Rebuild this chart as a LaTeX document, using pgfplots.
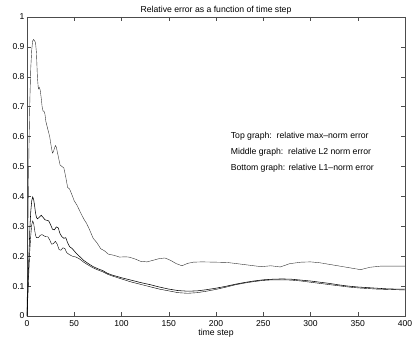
\documentclass[border=0pt]{standalone}
\usepackage{fontspec}
\setmainfont{Liberation Sans}
\usepackage{pgfplots}
\pgfplotsset{compat=1.18}

\begin{document}
\begin{tikzpicture}[x=1bp,y=1bp]
\useasboundingbox (-27,-23) rectangle (388,316);
\begin{axis}[
    at={(0,0)}, anchor=south west,
    scale only axis,
    width=378bp, height=299bp,
    xmin=0, xmax=400, ymin=0, ymax=1,
    xtick={0,50,...,400},
    ytick={0,0.1,...,1},
    yticklabels={0,0.1,0.2,0.3,0.4,0.5,0.6,0.7,0.8,0.9,1},
    /pgf/number format/assume math mode=true,
    tick align=inside,
    tick pos=both,
    major tick length=4bp,
    axis line style={gray!60!black, line width=0.6pt},
    every tick/.style={gray!60!black, line width=0.5pt},
    tick label style={font=\fontsize{8.6}{9}\selectfont},
    xticklabel style={yshift=-1.5pt},
    yticklabel style={xshift=1pt},
    title={Relative error as a function of time step},
    title style={font=\fontsize{8.7}{9}\selectfont, yshift=-7pt},
    xlabel={time step},
    xlabel style={font=\fontsize{8.7}{9}\selectfont, yshift=5pt},
    cycle list={{gray!40!black, line width=0.55pt, mark=none}},
]
% top: relative max-norm error
\addplot coordinates {
(0,0) (1,0.30) (2,0.55) (3,0.72) (4,0.83) (5,0.89) (6,0.92) (7,0.925) (8,0.92)
(9,0.915) (10,0.88) (11,0.80) (12,0.76) (13,0.765) (14,0.755) (15,0.73) (16,0.70)
(17,0.685) (18,0.685) (19,0.675) (20,0.65) (22,0.625) (24,0.60) (26,0.56) (27,0.545)
(28,0.55) (30,0.57) (31,0.565) (33,0.535) (35,0.505) (37,0.50) (39,0.495) (41,0.465)
(43,0.43) (45,0.425) (47,0.41) (50,0.385) (53,0.37) (56,0.35) (60,0.325) (63,0.31)
(66,0.29) (70,0.26) (74,0.245) (78,0.225) (82,0.218) (86,0.207) (92,0.203) (98,0.197)
(104,0.198) (108,0.197) (115,0.19) (120,0.183) (127,0.181) (133,0.186) (140,0.192)
(146,0.194) (152,0.186) (158,0.175) (164,0.168) (170,0.176) (176,0.18) (185,0.181)
(200,0.18) (212,0.179) (225,0.174) (240,0.168) (248,0.165) (258,0.168) (268,0.164)
(278,0.175) (290,0.18) (300,0.181) (310,0.178) (325,0.17) (340,0.162) (353,0.155)
(363,0.163) (375,0.167) (390,0.167) (400,0.167)
};
% middle: relative L2 norm error
\addplot coordinates {
(0,0) (1,0.1) (2,0.2) (3,0.29) (4,0.35) (5,0.385) (6,0.398) (7,0.39) (8,0.37)
(9,0.345) (10,0.33) (11,0.325) (13,0.33) (15,0.337) (17,0.33) (19,0.322) (21,0.32)
(23,0.318) (25,0.305) (27,0.29) (29,0.288) (31,0.298) (33,0.295) (35,0.275) (37,0.265)
(39,0.26) (41,0.262) (43,0.245) (45,0.232) (48,0.225) (52,0.21) (56,0.198) (60,0.186)
(65,0.175) (70,0.165) (75,0.158) (80,0.152) (85,0.143) (90,0.137) (100,0.128)
(110,0.12) (120,0.112) (130,0.105) (140,0.097) (150,0.09) (160,0.085) (170,0.083)
(180,0.084) (190,0.088) (200,0.093) (210,0.099) (220,0.106) (230,0.112) (240,0.117)
(250,0.121) (260,0.123) (270,0.124) (280,0.123) (290,0.12) (300,0.117) (310,0.113)
(320,0.109) (330,0.104) (340,0.1) (350,0.097) (360,0.095) (370,0.093) (380,0.091)
(390,0.09) (400,0.09)
};
% bottom: relative L1-norm error
\addplot coordinates {
(0,0) (1,0.07) (2,0.15) (3,0.22) (4,0.27) (5,0.305) (6,0.318) (7,0.31) (8,0.29)
(9,0.27) (10,0.262) (12,0.262) (14,0.27) (16,0.272) (18,0.268) (20,0.265) (22,0.265)
(24,0.255) (26,0.24) (28,0.242) (30,0.25) (32,0.24) (34,0.222) (36,0.22) (38,0.228)
(40,0.226) (42,0.212) (45,0.205) (48,0.2) (52,0.197) (56,0.19) (60,0.18) (65,0.17)
(70,0.161) (75,0.154) (80,0.148) (85,0.14) (90,0.134) (100,0.124) (110,0.114)
(120,0.106) (130,0.098) (140,0.09) (150,0.084) (160,0.078) (170,0.076) (180,0.078)
(190,0.083) (200,0.089) (210,0.096) (220,0.104) (230,0.11) (240,0.115) (250,0.119)
(260,0.121) (270,0.121) (280,0.12) (290,0.117) (300,0.113) (310,0.109) (320,0.105)
(330,0.101) (340,0.097) (350,0.094) (360,0.092) (370,0.09) (380,0.089) (390,0.088)
(400,0.087)
};
\node[anchor=west, font=\fontsize{8.7}{9}\selectfont] at (axis cs:212,0.60) {Top graph:\ \ relative max\textendash norm error};
\node[anchor=west, font=\fontsize{8.7}{9}\selectfont] at (axis cs:212,0.547) {Middle graph:\ \ relative L2 norm error};
\node[anchor=west, font=\fontsize{8.7}{9}\selectfont] at (axis cs:212,0.495) {Bottom graph: relative L1\textendash norm error};
\end{axis}
\end{tikzpicture}
\end{document}
